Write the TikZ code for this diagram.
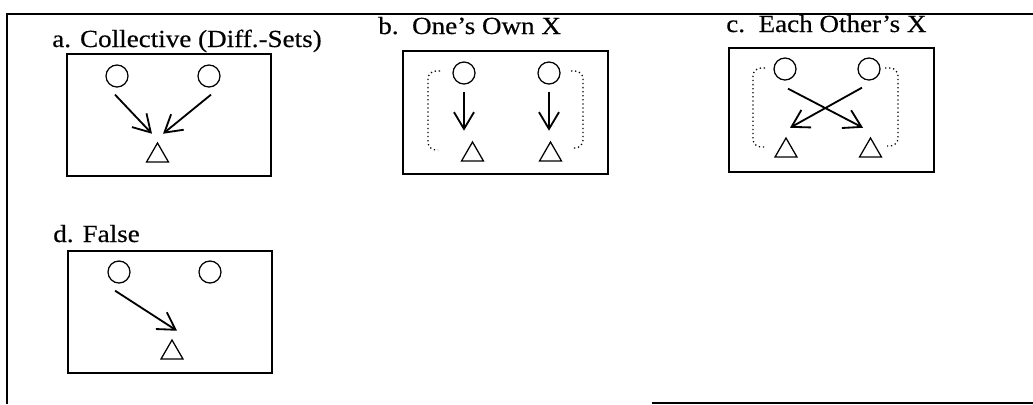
\documentclass[tikz,border=0pt]{standalone}
\usepackage{fontspec}
\setmainfont{Liberation Serif}[FakeStretch=1.1, FakeBold=0.4]
\usetikzlibrary{arrows.meta,shapes.geometric,calc}
\tikzset{
  person/.style={circle, draw, line width=0.9pt, minimum size=0.55cm, inner sep=0pt},
  thing/.style={regular polygon, regular polygon sides=3, draw, line width=0.9pt,
    minimum size=0.635cm, inner sep=0pt},
  link/.style={-{Straight Barb[length=0.42cm, width=0.5cm]}, line width=1.3pt},
  pair/.style={dotted, line width=0.9pt, rounded corners=0.2cm},
  frame/.style={line width=1.3pt},
  title/.style={anchor=base west, inner sep=0pt, font=\fontsize{17.5}{21}\selectfont}
}
\begin{document}
\begin{tikzpicture}[x=0.025cm, y=-0.025cm]
    \useasboundingbox (0,0) rectangle (1033,404);
    % 1. Outer frame
    \draw[frame] (1033,14) -- (7,14) -- (7,404);
    \draw[frame] (652,403) -- (1033,403);

    % 2. Panel a
    \node[title] (ta) at (52,47) {a. Collective (Diff.-Sets)};
    \draw[frame] (67,54) rectangle (271,176);
    \node[person] (a1) at (117,76) {};
    \node[person] (a2) at (209,76) {};
    \node[thing] (a3) at (157.5,155.7) {};
    \draw[link] ($(a1.south)+(-2,7)$) -- ($(a3.north)+(-5.5,-8)$);
    \draw[link] ($(a2.south)+(2,7)$) -- ($(a3.north)+(5.5,-8)$);

    % 3. Panel b
    \node[title] (tb) at (378,34) {b.\ \ One’s Own X};
    \draw[frame] (403,51) rectangle (608,174);
    \node[person] (b1) at (464,73) {};
    \node[person] (b2) at (549,73) {};
    \node[thing] (b3) at (472.5,154.7) {};
    \node[thing] (b4) at (550.5,154.7) {};
    \draw[link] ($(b1.south)+(0,7)$) -- ($(b3.north)+(-8.5,-10)$);
    \draw[link] ($(b2.south)+(0,7)$) -- ($(b4.north)+(-1.5,-10)$);
    \draw[pair] (440,71) -- (428,71) -- (428,150) -- (438,150);
    \draw[pair] (571,71) -- (583,71) -- (583,148) -- (573,148);

    % 4. Panel c
    \node[title] (tc) at (726,32) {c.\ \ Each Other’s X};
    \draw[frame] (729,48) rectangle (934,172);
    \node[person] (c1) at (785,69) {};
    \node[person] (c2) at (869,69) {};
    \node[thing] (c3) at (786,150.7) {};
    \node[thing] (c4) at (870.5,150.7) {};
    \draw[link] ($(c1.south)+(3,8)$) -- ($(c4.north)+(-7.5,-9)$);
    \draw[link] ($(c2.south)+(-7,7)$) -- ($(c3.north)+(4,-9)$);
    \draw[pair] (765,68) -- (753,68) -- (753,147) -- (764,147);
    \draw[pair] (885,68) -- (898,68) -- (898,146) -- (887,146);

    % 5. Panel d
    \node[title] (td) at (53,242) {d. False};
    \draw[frame] (68,251) rectangle (272,373);
    \node[person] (d1) at (119,272) {};
    \node[person] (d2) at (210,272) {};
    \node[thing] (d3) at (172,352.7) {};
    \draw[link] ($(d1.south)+(-4,7)$) -- ($(d3.north)+(5,-8)$);
\end{tikzpicture}
\end{document}
